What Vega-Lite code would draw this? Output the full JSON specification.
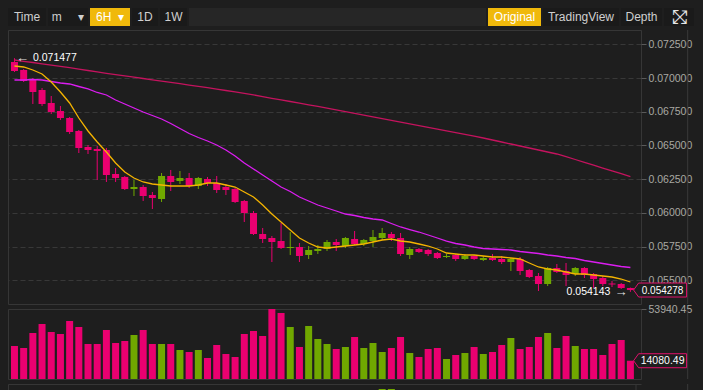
{
  "$schema": "https://vega.github.io/schema/vega-lite/v6.json",
  "background": "#1e1e1e",
  "padding": {"left": 7, "top": 8, "right": 10, "bottom": 0},
  "autosize": {"type": "pad"},
  "config": {
    "font": "Liberation Sans",
    "axis": {"labelColor": "#a9a9a3", "tickColor": "#5a5a5a", "domain": false, "labelFontSize": 10.5, "labelPadding": 2, "labelFont": "Liberation Sans"}
  },
  "datasets": {
    "buttons": [
      {"key": "time", "label": "Time", "active": false},
      {"key": "m", "label": "m\u00a0\u00a0\u00a0\u00a0\u00a0▾", "active": false},
      {"key": "6h", "label": "6H\u00a0\u00a0▾", "active": true},
      {"key": "1d", "label": "1D", "active": false},
      {"key": "1w", "label": "1W", "active": false},
      {"key": "orig", "label": "Original", "active": true},
      {"key": "tv", "label": "TradingView", "active": false},
      {"key": "depth", "label": "Depth", "active": false},
      {"key": "full", "label": "fullscreen", "active": false}
    ],
    "minorTicks": [
      {"level": 0.05375}, {"level": 0.05625}, {"level": 0.05875}, {"level": 0.06125},
      {"level": 0.06375}, {"level": 0.06625}, {"level": 0.06875}, {"level": 0.07125}
    ],
    "candles": [
      {"i":0,"open":0.071193,"high":0.071477,"low":0.070452,"close":0.070526,"volume":25430,"ma7":0.070897,"ma25":0.069858,"ma99":0.071342},
      {"i":1,"open":0.070600,"high":0.070674,"low":0.069710,"close":0.069784,"volume":23889,"ma7":0.070823,"ma25":0.069858,"ma99":0.071245},
      {"i":2,"open":0.069932,"high":0.070006,"low":0.068078,"close":0.068968,"volume":35448,"ma7":0.070600,"ma25":0.069895,"ma99":0.071156},
      {"i":3,"open":0.069116,"high":0.069265,"low":0.067930,"close":0.068078,"volume":42383,"ma7":0.070303,"ma25":0.069858,"ma99":0.071060},
      {"i":4,"open":0.068152,"high":0.068671,"low":0.067336,"close":0.067484,"volume":36218,"ma7":0.069710,"ma25":0.069747,"ma99":0.070963},
      {"i":5,"open":0.067559,"high":0.067930,"low":0.066891,"close":0.067039,"volume":34677,"ma7":0.068968,"ma25":0.069636,"ma99":0.070875},
      {"i":6,"open":0.067039,"high":0.067113,"low":0.065853,"close":0.066001,"volume":44695,"ma7":0.068152,"ma25":0.069562,"ma99":0.070771},
      {"i":7,"open":0.066075,"high":0.066149,"low":0.064443,"close":0.064814,"volume":40071,"ma7":0.067039,"ma25":0.069376,"ma99":0.070667},
      {"i":8,"open":0.064888,"high":0.065037,"low":0.064369,"close":0.064666,"volume":26971,"ma7":0.066075,"ma25":0.069191,"ma99":0.070563},
      {"i":9,"open":0.064740,"high":0.064962,"low":0.062440,"close":0.064591,"volume":26971,"ma7":0.065259,"ma25":0.068931,"ma99":0.070459},
      {"i":10,"open":0.064666,"high":0.064814,"low":0.062292,"close":0.062811,"volume":37759,"ma7":0.064517,"ma25":0.068746,"ma99":0.070355},
      {"i":11,"open":0.062885,"high":0.063330,"low":0.062292,"close":0.062589,"volume":27742,"ma7":0.063701,"ma25":0.068375,"ma99":0.070259},
      {"i":12,"open":0.062663,"high":0.062737,"low":0.061699,"close":0.061773,"volume":29283,"ma7":0.063034,"ma25":0.068078,"ma99":0.070162},
      {"i":13,"open":0.061773,"high":0.062440,"low":0.061253,"close":0.061921,"volume":33906,"ma7":0.062589,"ma25":0.067781,"ma99":0.070066},
      {"i":14,"open":0.061921,"high":0.062069,"low":0.060883,"close":0.061253,"volume":37759,"ma7":0.062292,"ma25":0.067484,"ma99":0.069970},
      {"i":15,"open":0.061328,"high":0.061550,"low":0.060289,"close":0.061105,"volume":26971,"ma7":0.062144,"ma25":0.067225,"ma99":0.069873},
      {"i":16,"open":0.061031,"high":0.062959,"low":0.060808,"close":0.062737,"volume":26971,"ma7":0.062069,"ma25":0.066965,"ma99":0.069777},
      {"i":17,"open":0.062737,"high":0.063182,"low":0.061624,"close":0.062292,"volume":26971,"ma7":0.061995,"ma25":0.066631,"ma99":0.069688},
      {"i":18,"open":0.062366,"high":0.063108,"low":0.062144,"close":0.062589,"volume":22347,"ma7":0.061995,"ma25":0.066261,"ma99":0.069584},
      {"i":19,"open":0.062589,"high":0.062959,"low":0.061847,"close":0.061995,"volume":20806,"ma7":0.061995,"ma25":0.065890,"ma99":0.069480},
      {"i":20,"open":0.061995,"high":0.062663,"low":0.061773,"close":0.062589,"volume":22347,"ma7":0.062069,"ma25":0.065593,"ma99":0.069383},
      {"i":21,"open":0.062514,"high":0.062663,"low":0.061995,"close":0.062218,"volume":16183,"ma7":0.062218,"ma25":0.065333,"ma99":0.069287},
      {"i":22,"open":0.062218,"high":0.062737,"low":0.061476,"close":0.061698,"volume":26200,"ma7":0.062218,"ma25":0.065037,"ma99":0.069183},
      {"i":23,"open":0.061921,"high":0.062144,"low":0.061328,"close":0.061698,"volume":19265,"ma7":0.062069,"ma25":0.064666,"ma99":0.069079},
      {"i":24,"open":0.061773,"high":0.061847,"low":0.060734,"close":0.060808,"volume":16953,"ma7":0.061921,"ma25":0.064221,"ma99":0.068976},
      {"i":25,"open":0.060883,"high":0.060957,"low":0.059325,"close":0.059992,"volume":34677,"ma7":0.061550,"ma25":0.063701,"ma99":0.068872},
      {"i":26,"open":0.059992,"high":0.060141,"low":0.058360,"close":0.058435,"volume":36989,"ma7":0.061179,"ma25":0.063256,"ma99":0.068753},
      {"i":27,"open":0.058435,"high":0.058880,"low":0.057767,"close":0.058064,"volume":33136,"ma7":0.060586,"ma25":0.062811,"ma99":0.068627},
      {"i":28,"open":0.058138,"high":0.058286,"low":0.056357,"close":0.057841,"volume":53940.45,"ma7":0.059918,"ma25":0.062366,"ma99":0.068501},
      {"i":29,"open":0.057915,"high":0.059250,"low":0.057322,"close":0.057396,"volume":50860,"ma7":0.059325,"ma25":0.061921,"ma99":0.068382},
      {"i":30,"open":0.057396,"high":0.058583,"low":0.056877,"close":0.057470,"volume":40071,"ma7":0.058731,"ma25":0.061587,"ma99":0.068263},
      {"i":31,"open":0.057470,"high":0.057767,"low":0.056357,"close":0.056803,"volume":24659,"ma7":0.058138,"ma25":0.061179,"ma99":0.068145},
      {"i":32,"open":0.056877,"high":0.057544,"low":0.056580,"close":0.057248,"volume":40842,"ma7":0.057767,"ma25":0.060882,"ma99":0.068018},
      {"i":33,"open":0.057174,"high":0.057618,"low":0.056951,"close":0.057322,"volume":30824,"ma7":0.057470,"ma25":0.060586,"ma99":0.067900},
      {"i":34,"open":0.057322,"high":0.057989,"low":0.057174,"close":0.057841,"volume":26971,"ma7":0.057396,"ma25":0.060363,"ma99":0.067774},
      {"i":35,"open":0.057841,"high":0.058064,"low":0.057174,"close":0.057618,"volume":23118,"ma7":0.057470,"ma25":0.060141,"ma99":0.067640},
      {"i":36,"open":0.057544,"high":0.058212,"low":0.057396,"close":0.058138,"volume":24659,"ma7":0.057544,"ma25":0.059918,"ma99":0.067514},
      {"i":37,"open":0.058064,"high":0.058657,"low":0.057618,"close":0.057693,"volume":32365,"ma7":0.057619,"ma25":0.059807,"ma99":0.067381},
      {"i":38,"open":0.057693,"high":0.058064,"low":0.057544,"close":0.057989,"volume":23889,"ma7":0.057693,"ma25":0.059658,"ma99":0.067255},
      {"i":39,"open":0.057915,"high":0.058731,"low":0.057470,"close":0.058212,"volume":27742,"ma7":0.057841,"ma25":0.059547,"ma99":0.067121},
      {"i":40,"open":0.058138,"high":0.058880,"low":0.057989,"close":0.058509,"volume":20806,"ma7":0.057989,"ma25":0.059473,"ma99":0.066995},
      {"i":41,"open":0.058435,"high":0.058583,"low":0.057915,"close":0.058138,"volume":23889,"ma7":0.058064,"ma25":0.059213,"ma99":0.066861},
      {"i":42,"open":0.058138,"high":0.058509,"low":0.056803,"close":0.056951,"volume":32365,"ma7":0.057915,"ma25":0.058954,"ma99":0.066728},
      {"i":43,"open":0.056877,"high":0.057470,"low":0.056580,"close":0.057322,"volume":20036,"ma7":0.057841,"ma25":0.058768,"ma99":0.066602},
      {"i":44,"open":0.057322,"high":0.057396,"low":0.057025,"close":0.057099,"volume":16953,"ma7":0.057693,"ma25":0.058583,"ma99":0.066468},
      {"i":45,"open":0.057248,"high":0.057322,"low":0.056803,"close":0.056951,"volume":23118,"ma7":0.057544,"ma25":0.058360,"ma99":0.066342},
      {"i":46,"open":0.057025,"high":0.057099,"low":0.056580,"close":0.056654,"volume":23889,"ma7":0.057322,"ma25":0.058138,"ma99":0.066209},
      {"i":47,"open":0.056728,"high":0.056951,"low":0.056654,"close":0.056803,"volume":15412,"ma7":0.057025,"ma25":0.057915,"ma99":0.066082},
      {"i":48,"open":0.056877,"high":0.056951,"low":0.056432,"close":0.056580,"volume":18494,"ma7":0.056951,"ma25":0.057730,"ma99":0.065949},
      {"i":49,"open":0.056580,"high":0.056951,"low":0.056506,"close":0.056803,"volume":20036,"ma7":0.056877,"ma25":0.057619,"ma99":0.065823},
      {"i":50,"open":0.056803,"high":0.056877,"low":0.056506,"close":0.056580,"volume":24659,"ma7":0.056877,"ma25":0.057470,"ma99":0.065689},
      {"i":51,"open":0.056506,"high":0.056803,"low":0.056432,"close":0.056654,"volume":19265,"ma7":0.056803,"ma25":0.057359,"ma99":0.065556},
      {"i":52,"open":0.056654,"high":0.056951,"low":0.056432,"close":0.056506,"volume":20806,"ma7":0.056728,"ma25":0.057322,"ma99":0.065407},
      {"i":53,"open":0.056580,"high":0.056803,"low":0.056209,"close":0.056357,"volume":26200,"ma7":0.056728,"ma25":0.057285,"ma99":0.065259},
      {"i":54,"open":0.056357,"high":0.056654,"low":0.055690,"close":0.056580,"volume":31595,"ma7":0.056654,"ma25":0.057248,"ma99":0.065111},
      {"i":55,"open":0.056580,"high":0.056728,"low":0.055393,"close":0.055690,"volume":23118,"ma7":0.056580,"ma25":0.057136,"ma99":0.064962},
      {"i":56,"open":0.055764,"high":0.055838,"low":0.055171,"close":0.055245,"volume":24659,"ma7":0.056283,"ma25":0.057062,"ma99":0.064814},
      {"i":57,"open":0.055319,"high":0.055542,"low":0.054206,"close":0.054726,"volume":32365,"ma7":0.055987,"ma25":0.056988,"ma99":0.064666},
      {"i":58,"open":0.054726,"high":0.055986,"low":0.054577,"close":0.055912,"volume":35448,"ma7":0.055838,"ma25":0.056877,"ma99":0.064517},
      {"i":59,"open":0.055912,"high":0.056209,"low":0.055542,"close":0.055616,"volume":23889,"ma7":0.055764,"ma25":0.056803,"ma99":0.064369},
      {"i":60,"open":0.055690,"high":0.056283,"low":0.054577,"close":0.055393,"volume":33136,"ma7":0.055616,"ma25":0.056691,"ma99":0.064169},
      {"i":61,"open":0.055467,"high":0.055986,"low":0.055319,"close":0.055912,"volume":25430,"ma7":0.055467,"ma25":0.056617,"ma99":0.063961},
      {"i":62,"open":0.055912,"high":0.055986,"low":0.055171,"close":0.055393,"volume":23118,"ma7":0.055467,"ma25":0.056469,"ma99":0.063753},
      {"i":63,"open":0.055467,"high":0.055542,"low":0.054429,"close":0.055096,"volume":23118,"ma7":0.055393,"ma25":0.056357,"ma99":0.063538},
      {"i":64,"open":0.055171,"high":0.055319,"low":0.054577,"close":0.054726,"volume":18494,"ma7":0.055319,"ma25":0.056246,"ma99":0.063330},
      {"i":65,"open":0.054763,"high":0.054948,"low":0.054503,"close":0.054688,"volume":26971,"ma7":0.055245,"ma25":0.056135,"ma99":0.063123},
      {"i":66,"open":0.054726,"high":0.054800,"low":0.054355,"close":0.054429,"volume":30053,"ma7":0.055096,"ma25":0.056024,"ma99":0.062907},
      {"i":67,"open":0.054429,"high":0.054460,"low":0.054143,"close":0.054278,"volume":14080.49,"ma7":0.054874,"ma25":0.055950,"ma99":0.062692}
    ],
    "macd": [
      {"i": 38, "v": 1}, {"i": 39, "v": 2}, {"i": 40, "v": 3}, {"i": 41, "v": 3}, {"i": 42, "v": 1.2}, {"i": 43, "v": 1}
    ]
  },
  "spacing": 2,
  "bounds": "full",
  "vconcat": [
    {
      "spacing": 2,
      "bounds": "flush",
      "hconcat": [
        {"width": 38, "height": 18, "view": {"fill": "#1a1a1a", "stroke": null}, "data": {"name": "buttons"}, "transform": [{"filter": "datum.key == 'time'"}], "mark": {"type": "text", "fontSize": 12, "color": "#cfcfcf"}, "encoding": {"text": {"field": "label", "type": "nominal"}}},
        {"width": 40, "height": 18, "view": {"fill": "#1a1a1a", "stroke": null}, "data": {"name": "buttons"}, "transform": [{"filter": "datum.key == 'm'"}], "mark": {"type": "text", "fontSize": 12, "color": "#cfcfcf"}, "encoding": {"text": {"field": "label", "type": "nominal"}}},
        {"width": 40, "height": 18, "view": {"fill": "#f0b90b", "stroke": null}, "data": {"name": "buttons"}, "transform": [{"filter": "datum.key == '6h'"}], "mark": {"type": "text", "fontSize": 12, "color": "#ffffff"}, "encoding": {"text": {"field": "label", "type": "nominal"}}},
        {"width": 26, "height": 18, "view": {"fill": "#1a1a1a", "stroke": null}, "data": {"name": "buttons"}, "transform": [{"filter": "datum.key == '1d'"}], "mark": {"type": "text", "fontSize": 12, "color": "#cfcfcf"}, "encoding": {"text": {"field": "label", "type": "nominal"}}},
        {"width": 27, "height": 18, "view": {"fill": "#1a1a1a", "stroke": null}, "data": {"name": "buttons"}, "transform": [{"filter": "datum.key == '1w'"}], "mark": {"type": "text", "fontSize": 12, "color": "#cfcfcf"}, "encoding": {"text": {"field": "label", "type": "nominal"}}},
        {"width": 297, "height": 18, "view": {"fill": "#262626", "stroke": null}, "data": {"values": [{}]}, "mark": {"type": "text"}, "encoding": {"text": {"value": ""}}},
        {"width": 53, "height": 18, "view": {"fill": "#f0b90b", "stroke": null}, "data": {"name": "buttons"}, "transform": [{"filter": "datum.key == 'orig'"}], "mark": {"type": "text", "fontSize": 12, "color": "#ffffff"}, "encoding": {"text": {"field": "label", "type": "nominal"}}},
        {"width": 76, "height": 18, "view": {"fill": "#1a1a1a", "stroke": null}, "data": {"name": "buttons"}, "transform": [{"filter": "datum.key == 'tv'"}], "mark": {"type": "text", "fontSize": 12, "color": "#cfcfcf"}, "encoding": {"text": {"field": "label", "type": "nominal"}}},
        {"width": 41, "height": 18, "view": {"fill": "#1a1a1a", "stroke": null}, "data": {"name": "buttons"}, "transform": [{"filter": "datum.key == 'depth'"}], "mark": {"type": "text", "fontSize": 12, "color": "#cfcfcf"}, "encoding": {"text": {"field": "label", "type": "nominal"}}},
        {"width": 30, "height": 18, "view": {"fill": "#1a1a1a", "stroke": null}, "data": {"name": "buttons"}, "transform": [{"filter": "datum.key == 'full'"}],
         "layer": [
           {"mark": {"type": "text", "fontSize": 19, "color": "#e6e6e6", "font": "DejaVu Sans"}, "encoding": {"text": {"value": "⤢"}}},
           {"mark": {"type": "text", "fontSize": 19, "color": "#e6e6e6", "font": "DejaVu Sans"}, "encoding": {"text": {"value": "⤡"}}}
         ]}
      ]
    },
    {
      "spacing": 5,
      "bounds": "flush",
      "vconcat": [
        {
          "width": 633, "height": 274,
          "view": {"stroke": "#363636"},
          "data": {"name": "candles"},
          "encoding": {
            "x": {"field": "i", "type": "quantitative", "scale": {"domain": [-0.16, 67.61], "nice": false, "zero": false}, "axis": null}
          },
          "layer": [
            {"mark": {"type": "rule", "strokeWidth": 1, "clip": true},
             "encoding": {
               "y": {"field": "low", "type": "quantitative", "title": null,
                     "scale": {"domain": [0.053242, 0.073567], "nice": false, "zero": false},
                     "axis": {"orient": "right", "title": null, "values": [0.055, 0.0575, 0.06, 0.0625, 0.065, 0.0675, 0.07, 0.0725], "format": ".6f", "labelOverlap": false, "tickSize": 5, "grid": true, "gridColor": "#383838", "gridDash": [5, 3]}},
               "y2": {"field": "high"},
               "color": {"condition": {"test": "datum.close > datum.open", "value": "#70a800"}, "value": "#ea0070"}
             }},
            {"mark": {"type": "bar", "width": 7, "clip": true},
             "encoding": {
               "y": {"field": "open", "type": "quantitative", "title": null,
                     "axis": {"orient": "right", "title": null, "values": [0.055, 0.0575, 0.06, 0.0625, 0.065, 0.0675, 0.07, 0.0725], "format": ".6f", "labelOverlap": false, "tickSize": 5, "grid": true, "gridColor": "#383838", "gridDash": [5, 3]}},
               "y2": {"field": "close"},
               "color": {"condition": {"test": "datum.close > datum.open", "value": "#70a800"}, "value": "#ea0070"}
             }},
            {"mark": {"type": "line", "color": "#c4135e", "strokeWidth": 1.3, "clip": true},
             "encoding": {"y": {"field": "ma99", "type": "quantitative", "title": null,
                     "axis": {"orient": "right", "title": null, "values": [0.055, 0.0575, 0.06, 0.0625, 0.065, 0.0675, 0.07, 0.0725], "format": ".6f", "labelOverlap": false, "tickSize": 5, "grid": true, "gridColor": "#383838", "gridDash": [5, 3]}}}},
            {"mark": {"type": "line", "color": "#db1df0", "strokeWidth": 1.3, "clip": true},
             "encoding": {"y": {"field": "ma25", "type": "quantitative", "title": null,
                     "axis": {"orient": "right", "title": null, "values": [0.055, 0.0575, 0.06, 0.0625, 0.065, 0.0675, 0.07, 0.0725], "format": ".6f", "labelOverlap": false, "tickSize": 5, "grid": true, "gridColor": "#383838", "gridDash": [5, 3]}}}},
            {"mark": {"type": "line", "color": "#f5b400", "strokeWidth": 1.3, "clip": true},
             "encoding": {"y": {"field": "ma7", "type": "quantitative", "title": null,
                     "axis": {"orient": "right", "title": null, "values": [0.055, 0.0575, 0.06, 0.0625, 0.065, 0.0675, 0.07, 0.0725], "format": ".6f", "labelOverlap": false, "tickSize": 5, "grid": true, "gridColor": "#383838", "gridDash": [5, 3]}}}},
            {"data": {"name": "minorTicks"},
             "mark": {"type": "rule", "color": "#5a5a5a", "strokeWidth": 1},
             "encoding": {"x": {"datum": 67.61}, "x2": {"datum": 67.83},
                          "y": {"field": "level", "type": "quantitative", "title": null,
                                "axis": {"orient": "right", "title": null, "values": [0.055, 0.0575, 0.06, 0.0625, 0.065, 0.0675, 0.07, 0.0725], "format": ".6f", "labelOverlap": false, "tickSize": 5, "grid": true, "gridColor": "#383838", "gridDash": [5, 3]}}}},
            {"transform": [{"filter": "datum.i == 0"}],
             "mark": {"type": "rule", "color": "#3a3a3a", "strokeWidth": 1},
             "encoding": {"x": {"datum": 73.23}}},
            {"transform": [{"filter": "datum.i == 0"}],
             "mark": {"type": "text", "align": "left", "dx": 1.5, "fontSize": 13, "color": "#e0e0e0"},
             "encoding": {"y": {"field": "high", "type": "quantitative", "title": null,
                     "axis": {"orient": "right", "title": null, "values": [0.055, 0.0575, 0.06, 0.0625, 0.065, 0.0675, 0.07, 0.0725], "format": ".6f", "labelOverlap": false, "tickSize": 5, "grid": true, "gridColor": "#383838", "gridDash": [5, 3]}},
                          "text": {"value": "←"}}},
            {"transform": [{"filter": "datum.i == 0"}],
             "mark": {"type": "text", "align": "left", "dx": 18.5, "fontSize": 10.5, "color": "#ffffff"},
             "encoding": {"y": {"field": "high", "type": "quantitative", "title": null,
                     "axis": {"orient": "right", "title": null, "values": [0.055, 0.0575, 0.06, 0.0625, 0.065, 0.0675, 0.07, 0.0725], "format": ".6f", "labelOverlap": false, "tickSize": 5, "grid": true, "gridColor": "#383838", "gridDash": [5, 3]}},
                          "text": {"field": "high", "type": "quantitative", "format": ".6f"}}},
            {"transform": [{"filter": "datum.i == 67"}],
             "mark": {"type": "text", "align": "right", "dx": -3, "fontSize": 13, "color": "#e0e0e0"},
             "encoding": {"y": {"field": "low", "type": "quantitative", "title": null,
                     "axis": {"orient": "right", "title": null, "values": [0.055, 0.0575, 0.06, 0.0625, 0.065, 0.0675, 0.07, 0.0725], "format": ".6f", "labelOverlap": false, "tickSize": 5, "grid": true, "gridColor": "#383838", "gridDash": [5, 3]}},
                          "text": {"value": "→"}}},
            {"transform": [{"filter": "datum.i == 67"}],
             "mark": {"type": "text", "align": "right", "dx": -20, "fontSize": 10.5, "color": "#ffffff"},
             "encoding": {"y": {"field": "low", "type": "quantitative", "title": null,
                     "axis": {"orient": "right", "title": null, "values": [0.055, 0.0575, 0.06, 0.0625, 0.065, 0.0675, 0.07, 0.0725], "format": ".6f", "labelOverlap": false, "tickSize": 5, "grid": true, "gridColor": "#383838", "gridDash": [5, 3]}},
                          "text": {"field": "low", "type": "quantitative", "format": ".6f"}}},
            {"transform": [{"filter": "datum.i == 67"}],
             "mark": {"type": "point", "shape": "M-1,0L-0.81,-0.264L1,-0.264L1,0.264L-0.81,0.264Z", "size": 2809, "filled": true, "fill": "#1e1e1e", "stroke": "#e0116b", "strokeWidth": 1, "opacity": 1, "fillOpacity": 1, "strokeOpacity": 1},
             "encoding": {"x": {"datum": 70.23},
                          "y": {"field": "close", "type": "quantitative", "title": null,
                     "axis": {"orient": "right", "title": null, "values": [0.055, 0.0575, 0.06, 0.0625, 0.065, 0.0675, 0.07, 0.0725], "format": ".6f", "labelOverlap": false, "tickSize": 5, "grid": true, "gridColor": "#383838", "gridDash": [5, 3]}}}},
            {"transform": [{"filter": "datum.i == 67"}],
             "mark": {"type": "text", "align": "center", "dx": 2.5, "dy": 0.5, "fontSize": 10, "color": "#ffffff"},
             "encoding": {"x": {"datum": 70.23},
                          "y": {"field": "close", "type": "quantitative", "title": null,
                     "axis": {"orient": "right", "title": null, "values": [0.055, 0.0575, 0.06, 0.0625, 0.065, 0.0675, 0.07, 0.0725], "format": ".6f", "labelOverlap": false, "tickSize": 5, "grid": true, "gridColor": "#383838", "gridDash": [5, 3]}},
                          "text": {"field": "close", "type": "quantitative", "format": ".6f"}}}
          ]
        },
        {
          "width": 633, "height": 70,
          "view": {"stroke": "#363636"},
          "data": {"name": "candles"},
          "encoding": {
            "x": {"field": "i", "type": "quantitative", "scale": {"domain": [-0.16, 67.61], "nice": false, "zero": false}, "axis": null}
          },
          "layer": [
            {"mark": {"type": "bar", "width": 7, "clip": true},
             "encoding": {
               "y": {"field": "volume", "type": "quantitative", "title": null,
                     "scale": {"domain": [0, 53940.45], "nice": false},
                     "axis": {"orient": "right", "title": null, "values": [53940.45], "format": ".2f", "tickSize": 5, "grid": false, "labelOverlap": false}},
               "color": {"condition": {"test": "datum.close > datum.open", "value": "#70a800"}, "value": "#ea0070"}
             }},
            {"transform": [{"filter": "datum.i == 0"}],
             "mark": {"type": "rule", "color": "#3a3a3a", "strokeWidth": 1},
             "encoding": {"x": {"datum": 73.23}}},
            {"transform": [{"filter": "datum.i == 67"}],
             "mark": {"type": "point", "shape": "M-1,0L-0.81,-0.264L1,-0.264L1,0.264L-0.81,0.264Z", "size": 2809, "filled": true, "fill": "#1e1e1e", "stroke": "#e0116b", "strokeWidth": 1, "opacity": 1, "fillOpacity": 1, "strokeOpacity": 1},
             "encoding": {"x": {"datum": 70.23},
                          "y": {"field": "volume", "type": "quantitative", "title": null,
                                "axis": {"orient": "right", "title": null, "values": [53940.45], "format": ".2f", "tickSize": 5, "grid": false, "labelOverlap": false}}}},
            {"transform": [{"filter": "datum.i == 67"}],
             "mark": {"type": "text", "align": "center", "dx": 2.5, "fontSize": 10.5, "color": "#ffffff"},
             "encoding": {"x": {"datum": 70.23},
                          "y": {"field": "volume", "type": "quantitative", "title": null,
                                "axis": {"orient": "right", "title": null, "values": [53940.45], "format": ".2f", "tickSize": 5, "grid": false, "labelOverlap": false}},
                          "text": {"field": "volume", "type": "quantitative", "format": ".2f"}}}
          ]
        },
        {
          "width": 633, "height": 8,
          "view": {"stroke": null},
          "data": {"name": "macd"},
          "encoding": {
            "x": {"field": "i", "type": "quantitative", "scale": {"domain": [-0.16, 67.61], "nice": false, "zero": false},
                  "axis": {"orient": "top", "domain": true, "domainColor": "#363636", "ticks": false, "labels": false, "grid": false, "title": null}}
          },
          "layer": [
            {"mark": {"type": "bar", "width": 7, "color": "#70a800", "clip": true},
             "encoding": {
               "y": {"field": "v", "type": "quantitative", "scale": {"domain": [0, 8], "nice": false},
                     "axis": {"orient": "left", "domain": true, "domainColor": "#363636", "ticks": false, "labels": false, "grid": false, "title": null}}
             }},
            {"transform": [{"filter": "datum.i == 38"}],
             "mark": {"type": "rule", "color": "#363636", "strokeWidth": 1},
             "encoding": {"x": {"datum": 67.61}}},
            {"transform": [{"filter": "datum.i == 38"}],
             "mark": {"type": "rule", "color": "#3a3a3a", "strokeWidth": 1},
             "encoding": {"x": {"datum": 73.23}}}
          ]
        }
      ]
    }
  ]
}
